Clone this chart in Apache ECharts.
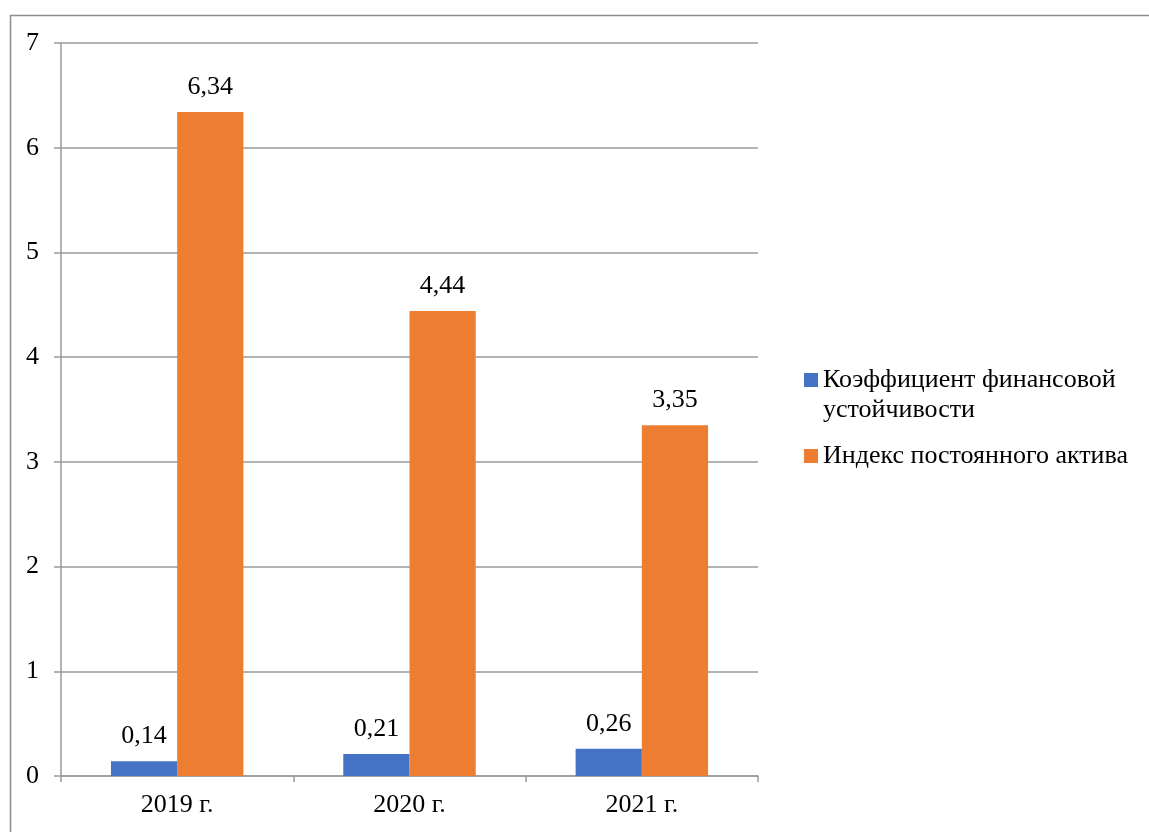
<!DOCTYPE html>
<html>
<head>
<meta charset="utf-8">
<script src="https://cdn.jsdelivr.net/npm/echarts@6/dist/echarts.min.js"></script>
<style>
html,body{margin:0;padding:0;background:#fff;}
#chart{width:1149px;height:832px;}
</style>
</head>
<body>
<div id="chart"></div>
<script>
const categories = ['2019 г.', '2020 г.', '2021 г.'];
const seriesNames = ['Коэффициент финансовой устойчивости', 'Индекс постоянного актива'];
const stabilityValues = [0.14, 0.21, 0.26];
const fixedAssetIndexValues = [6.34, 4.44, 3.35];
const yTicks = [0, 1, 2, 3, 4, 5, 6, 7];

const FONT = '"Liberation Serif", "Times New Roman", serif';
const fmt = v => String(v).replace('.', ',');

const chart = echarts.init(document.getElementById('chart'));
chart.setOption({
  animation: false,
  backgroundColor: '#fff',
  graphic: [{
    type: 'rect', left: 8, top: 13, z: -10,
    shape: { width: 1200, height: 900 },
    style: { fill: 'none', stroke: '#8c8c8c', lineWidth: 1.5 }
  }],
  grid: { left: 61, right: 391, top: 43, bottom: 56 },
  legend: {
    orient: 'vertical',
    left: 799,
    top: 330,
    itemWidth: 14,
    itemHeight: 14,
    itemGap: 16,
    icon: 'rect',
    data: seriesNames,
    formatter: name => name === seriesNames[0] ? '\nКоэффициент финансовой\nустойчивости' : name,
    textStyle: { fontFamily: FONT, fontSize: 26, color: '#000', lineHeight: 30 }
  },
  xAxis: {
    type: 'category',
    data: categories,
    axisLine: { lineStyle: { color: '#9a9a9a', width: 1.5 } },
    axisTick: { show: true, length: 6, lineStyle: { color: '#9a9a9a', width: 1.5 } },
    axisLabel: { fontFamily: FONT, fontSize: 26, color: '#000', margin: 16 }
  },
  yAxis: {
    type: 'value',
    min: yTicks[0],
    max: yTicks[yTicks.length - 1],
    interval: 1,
    axisLine: { show: true, lineStyle: { color: '#9a9a9a', width: 1.5 } },
    axisTick: { show: true, length: 7, lineStyle: { color: '#9a9a9a', width: 1.5 } },
    axisLabel: { fontFamily: FONT, fontSize: 26, color: '#000', margin: 22, formatter: v => fmt(v) },
    splitLine: { lineStyle: { color: '#9a9a9a', width: 1.5 } }
  },
  series: [
    {
      name: seriesNames[0], type: 'bar', data: stabilityValues,
      barGap: '0%', barCategoryGap: '43%',
      itemStyle: { color: '#4472C4' },
      label: { show: true, position: 'top', distance: 12, fontFamily: FONT, fontSize: 26, color: '#000', formatter: p => fmt(p.value) }
    },
    {
      name: seriesNames[1], type: 'bar', data: fixedAssetIndexValues,
      barGap: '0%', barCategoryGap: '43%',
      itemStyle: { color: '#ED7D31' },
      label: { show: true, position: 'top', distance: 12, fontFamily: FONT, fontSize: 26, color: '#000', formatter: p => fmt(p.value) }
    }
  ]
});
</script>
</body>
</html>
